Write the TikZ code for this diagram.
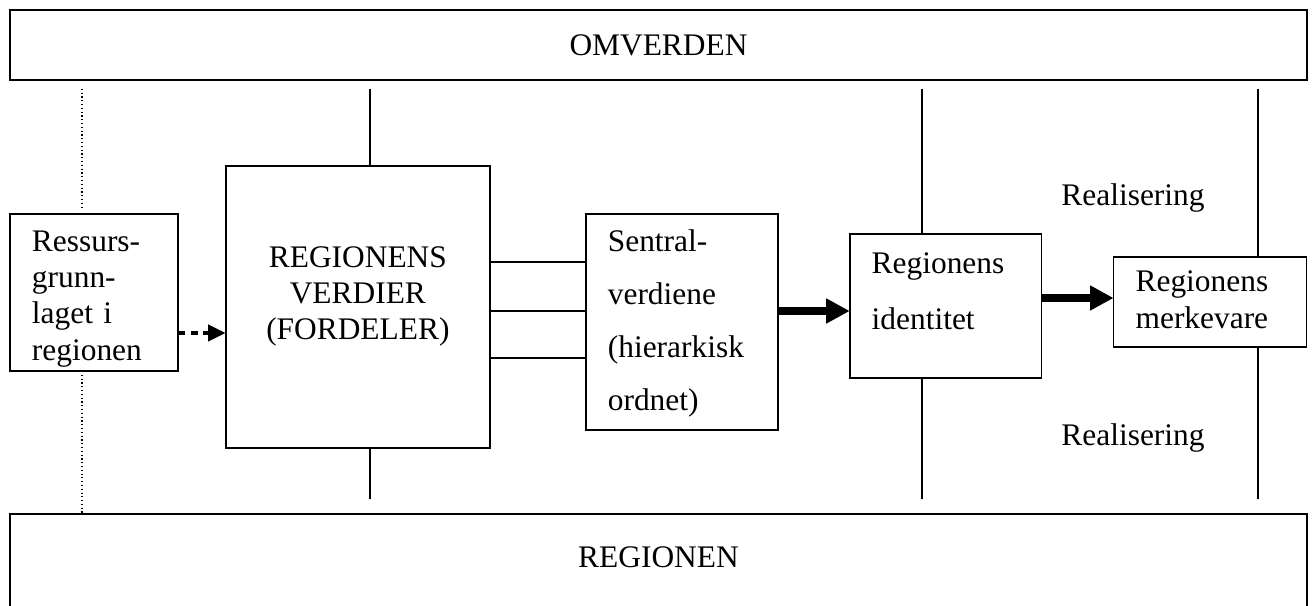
\documentclass[tikz,border=0pt]{standalone}
\usepackage{fontspec}
\setmainfont{Liberation Serif}
\usetikzlibrary{arrows.meta, positioning}

\begin{document}
\begin{tikzpicture}[
        x=0.382pt, y=-0.382pt,
        font=\fontsize{12}{13.8}\selectfont,
        areabox/.style={rectangle, draw, line width=0.6pt, minimum width=495.5pt,
                minimum height=26.7pt, inner sep=0pt, outer sep=0pt},
        stagebox/.style={rectangle, draw, line width=0.6pt, inner xsep=8.4pt,
                inner ysep=0pt, outer sep=0pt, align=left},
        vline/.style={line width=0.45pt},
        dotline/.style={line width=0.45pt, densely dotted},
        link/.style={line width=0.45pt},
        boldarrow/.style={-{Triangle[length=9pt, width=9pt]}, line width=3pt},
        dotarrow/.style={-{Triangle[length=6.8pt, width=6pt]}, line width=1.9pt,
                dash pattern=on 2.8pt off 2pt},
        reallab/.style={inner sep=0pt}, ]

        \useasboundingbox (0,0) rectangle (1314,606);
        \clip (0,0) rectangle (1314,606);

        % === OUTER AREAS ===
        \node[areabox] (omverden) at (658.5,45) {OMVERDEN};
        \node[areabox, below=165.8pt of omverden, text height=20.6pt, text depth=40pt] (regionen) {REGIONEN};

        % === VALUE CHAIN ===
        \node[stagebox, text width=47.4pt, text height=14.4pt, text depth=45.6pt] (ressurs) at (94,292.5)
                {Ressurs-\\grunn-\\laget i\\regionen};
        \node[stagebox, align=center, text width=84pt, text height=38.8pt, text depth=68.9pt,
                right=18.3pt of ressurs, yshift=-5.5pt] (verdier) {REGIONENS\\VERDIER\\(FORDELER)};
        \node[stagebox, text width=56.5pt, text height=14.4pt, text depth=68.1pt,
                right=36.7pt of verdier, yshift=-5.7pt] (sentral)
                {Sentral-\\[6.4pt]verdiene\\[6.4pt](hierarkisk\\[6.4pt]ordnet)};
        \node[stagebox, text width=56.5pt, text height=15.1pt, text depth=39.9pt,
                right=27.5pt of sentral, yshift=6.1pt] (ident) {Regionens\\[7.6pt]identitet};
        \node[stagebox, text width=56.9pt, text height=13.4pt, text depth=21pt,
                right=27.5pt of ident, yshift=1.5pt] (merke) {Regionens\\merkevare};

        \node[reallab] (realtop) at (1133,198) {Realisering};
        \node[reallab] (realbot) at (1133,438) {Realisering};

        % Connections
        \draw[dotarrow] (ressurs.east |- 0,333) -- (verdier.west |- 0,333);
        \foreach \yy in {262, 311, 358} {
                \draw[link] (verdier.east |- 0,\yy) -- (sentral.west |- 0,\yy);
            }
        \draw[boldarrow] (sentral.east |- 0,311) -- (ident.west |- 0,311);
        \draw[boldarrow] (ident.east |- 0,298) -- (merke.west |- 0,298);

        % === VERTICAL TIES ===
        \coordinate (colA) at (82,0);
        \coordinate (colB) at (370,0);
        \coordinate (colC) at (922,0);
        \coordinate (colD) at (1258,0);

        \draw[dotline, shorten <=3.4pt, shorten >=2.3pt] (colA |- omverden.south) -- (colA |- ressurs.north);
        \draw[dotline] (colA |- ressurs.south) -- (colA |- regionen.north);
        \foreach \col/\blk in {colB/verdier, colC/ident, colD/merke} {
                \draw[vline, shorten <=3.4pt] (\col |- omverden.south) -- (\col |- \blk.north);
                \draw[vline, shorten >=5.7pt] (\col |- \blk.south) -- (\col |- regionen.north);
            }
    \end{tikzpicture}
\end{document}
